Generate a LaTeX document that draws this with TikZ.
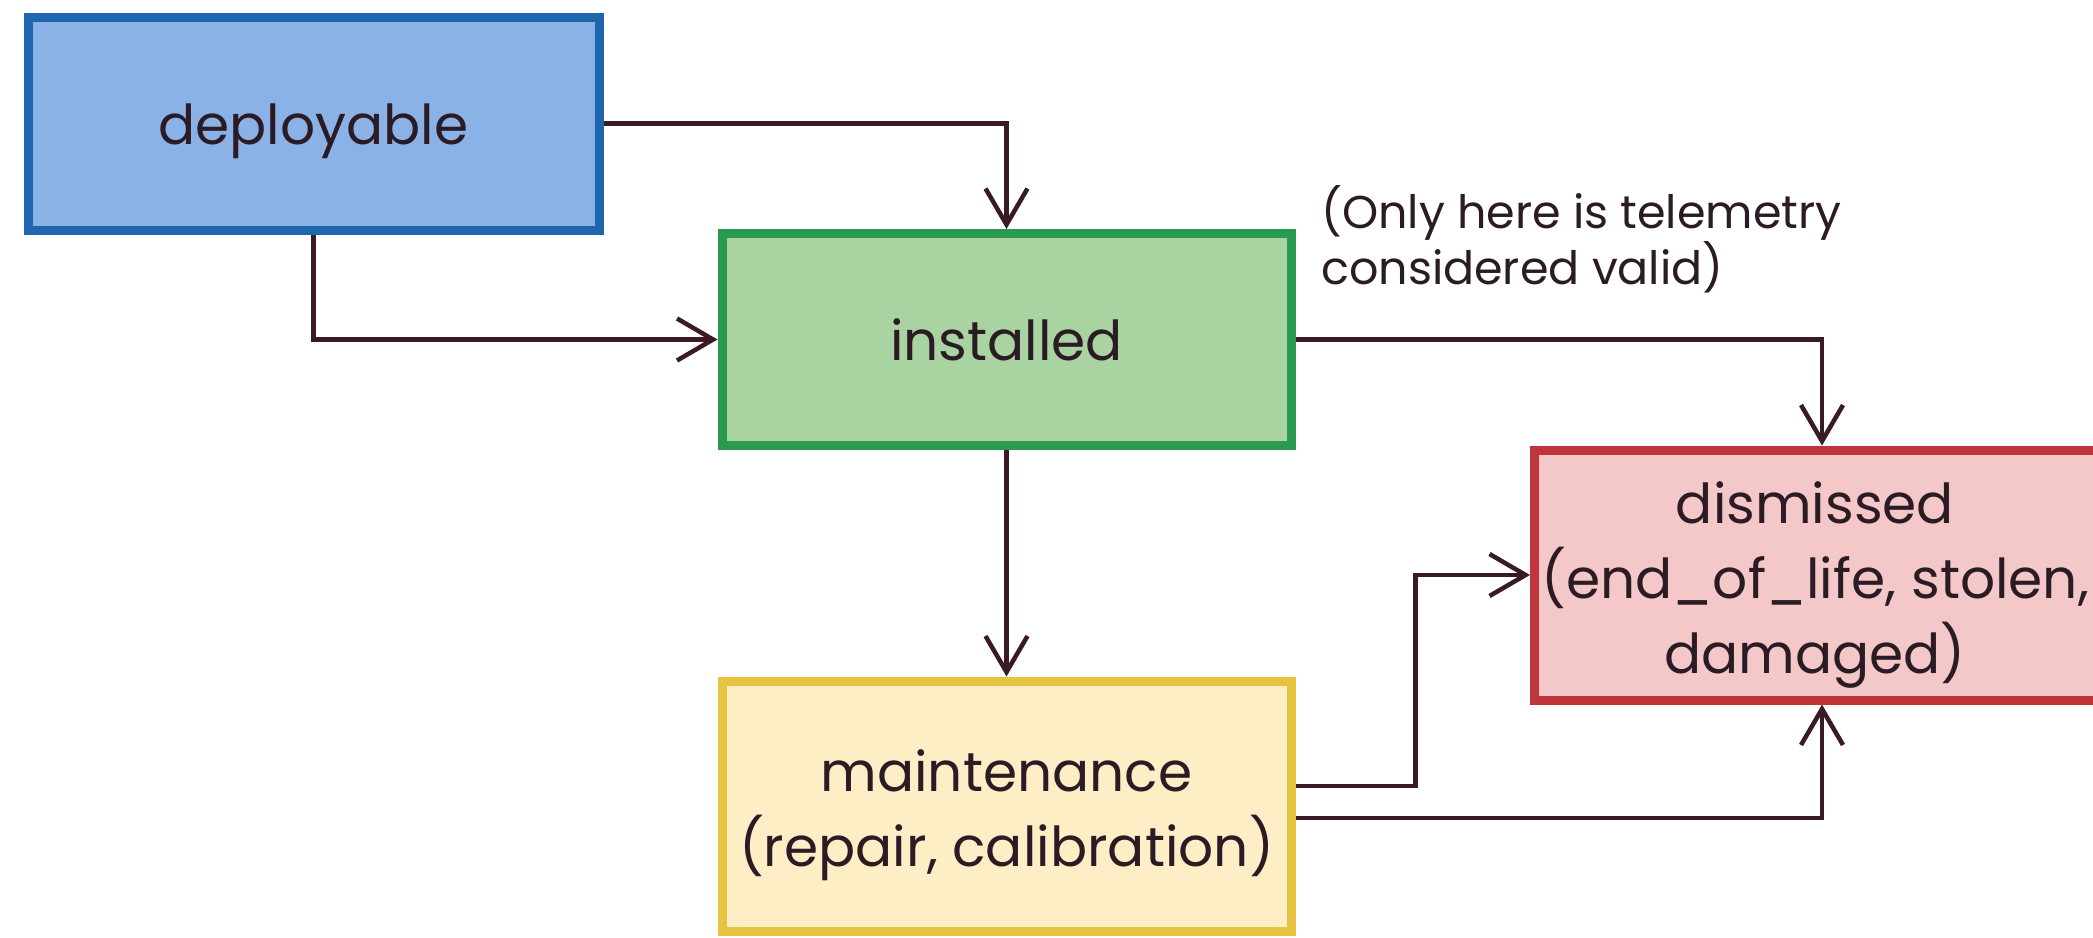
\documentclass[tikz,border=0pt]{standalone}
\usepackage{fontspec}
\setmainfont{Poppins}
\usetikzlibrary{arrows.meta}

\definecolor{ink}{HTML}{2B1B24}
\definecolor{wire}{HTML}{3A1A24}
\definecolor{blueF}{HTML}{8AB2E6}
\definecolor{blueD}{HTML}{1E66AE}
\definecolor{greenF}{HTML}{A9D3A0}
\definecolor{greenD}{HTML}{2A9A50}
\definecolor{yellowF}{HTML}{FDEEC6}
\definecolor{yellowD}{HTML}{E6C440}
\definecolor{redF}{HTML}{F4C8C8}
\definecolor{redD}{HTML}{C0353A}

\tikzset{
  state/.style={draw, line width=9pt, rectangle, inner sep=0pt},
  caption/.style={text=ink, align=center, inner sep=0pt,
    font=\fontsize{55}{75}\selectfont},
  conn/.style={draw=wire, line width=4.5pt,
    -{Straight Barb[length=36pt,width=42pt,line width=4.5pt]}},
  note/.style={text=ink, align=left, anchor=base west, inner sep=0pt,
    font=\fontsize{46}{49}\selectfont}
}

\begin{document}
\begin{tikzpicture}[x=1pt, y=-1pt]
  \useasboundingbox[fill=white] (0,0) rectangle (2093,937);

  % state boxes
  \node[state, fill=blueF, draw=blueD, minimum width=571pt, minimum height=213pt]
    (dep) at (313.5,123.5) {};
  \node[state, fill=greenF, draw=greenD, minimum width=569pt, minimum height=212pt]
    (inst) at (1006.5,339.5) {};
  \node[state, fill=yellowF, draw=yellowD, minimum width=569pt, minimum height=250pt]
    (maint) at (1006.5,806) {};
  \node[state, fill=redF, draw=redD, minimum width=575pt, minimum height=250pt]
    (dis) at (1822,575) {};

  % state names
  \node[caption] (deplbl)   at (313.5,131) {deployable};
  \node[caption] (instlbl)  at (1006.5,340) {installed};
  \node[caption] (maintlbl) at (1006.5,815) {maintenance\\(repair, calibration)};
  \node[caption] (dislbl)   at (1815,585) {dismissed\\(end\_of\_life, stolen,\\damaged)};

  % annotation (anchored on the baseline of its last line)
  \node[note] (valid) at (1321,284) {(Only here is telemetry\\considered valid)};

  % transitions
  \draw[conn] (dep.east) -| (inst.north);
  \draw[conn] (dep.south) |- (inst.west);
  \draw[conn] (inst.east) -| (dis.north);
  \draw[conn] (inst.south) -- (maint.north);
  \coordinate (m1) at ([yshift=20pt]maint.east);
  \coordinate (m2) at ([yshift=-12pt]maint.east);
  \draw[conn] (m1) -- ++(120,0) |- (dis.west);
  \draw[conn] (m2) -| (dis.south);
\end{tikzpicture}
\end{document}
